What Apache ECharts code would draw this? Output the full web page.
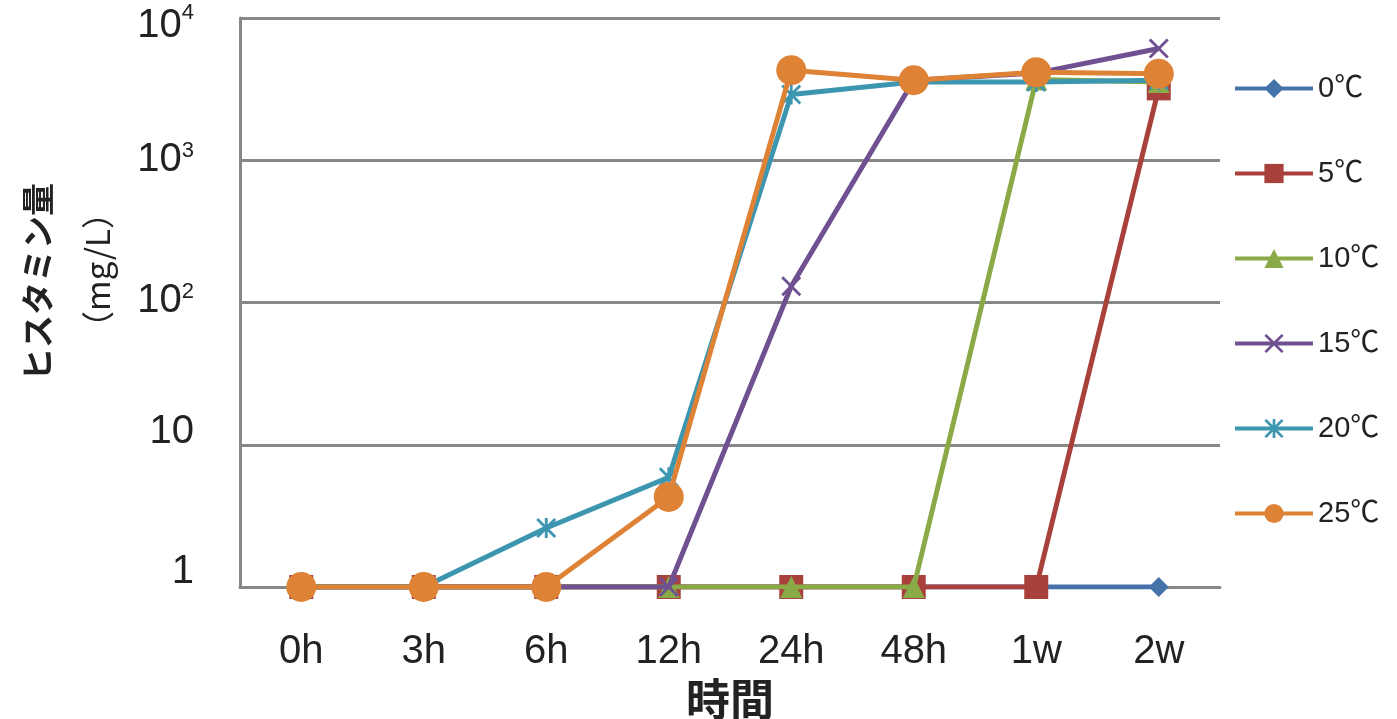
<!DOCTYPE html>
<html>
<head>
<meta charset="utf-8">
<script src="https://cdn.jsdelivr.net/npm/echarts@6/dist/echarts.min.js"></script>
<style>
  html, body { margin: 0; padding: 0; background: #fff; }
  #grafico { width: 1397px; height: 719px; }
</style>
</head>
<body>
<div id="grafico"></div>
<script>
// dados
var categorias = ["0h", "3h", "6h", "12h", "24h", "48h", "1w", "2w"];
var nomes = ["0℃", "5℃", "10℃", "15℃", "20℃", "25℃"];
var s0 = [1, 1, 1, 1, 1, 1, 1, 1];
var s5 = [1, 1, 1, 1, 1, 1, 1, 3200];
var s10 = [1, 1, 1, 1, 1, 1, 3700, 3550];
var s15 = [1, 1, 1, 1, 130, 3650, 4100, 6100];
var s20 = [1, 1, 2.6, 5.9, 2900, 3550, 3550, 3650];
var s25 = [1, 1, 1, 4.3, 4300, 3650, 4150, 4050];
var rotulosY = {
    1: "{a|1}",
    10: "{b|10}",
    100: "{c|10}{s|2}",
    1000: "{d|10}{s|3}",
    10000: "{e|10}{se|4}"
};

var cores = ["#4672aa", "#a8403c", "#8aaa48", "#6f5090", "#3d96b0", "#de8236"];

// marcadores
var simboloX = "path://M0,1L1,0L5,4L9,0L10,1L6,5L10,9L9,10L5,6L1,10L0,9L4,5Z";
var simboloAst = "path://M0,1L1,0L5,4L9,0L10,1L6,5L10,9L9,10L5,6L1,10L0,9L4,5Z M4.3,0L5.7,0L5.7,10L4.3,10Z";
var simbolos = ["diamond", "rect", "triangle", simboloX, simboloAst, "circle"];
var tamanhos = [20, 24, 22, 20, 20, 30];
var dados = [s0, s5, s10, s15, s20, s25];

var fonte = "'Liberation Sans', Arial, 'Noto Sans CJK JP', sans-serif";
var cinza = "#878787";
var texto = "#222";

function rotulo(pad) {
    return { fontSize: 40, color: texto, fontFamily: fonte, padding: pad };
}

var series = dados.map((d, i) => ({
    name: nomes[i],
    type: "line",
    data: d,
    symbol: simbolos[i],
    symbolSize: tamanhos[i],
    symbolKeepAspect: true,
    lineStyle: { width: 5, color: cores[i] },
    itemStyle: { color: cores[i] },
    emphasis: { disabled: true },
    z: 2 + i
}));

var myChart = echarts.init(document.getElementById("grafico"));

var option = {
    animation: false,
    backgroundColor: "#fff",
    grid: { left: 240, right: 177, top: 18, bottom: 132, outerBoundsMode: "none", containLabel: false },
    legend: {
        orient: "vertical",
        left: 1228,
        top: 69,
        itemWidth: 78,
        itemHeight: 24,
        itemGap: 56,
        data: nomes,
        lineStyle: { width: 4 },
        textStyle: { fontSize: 29, color: texto, fontFamily: fonte, lineHeight: 26 }
    },
    xAxis: {
        type: "category",
        data: categorias,
        boundaryGap: true,
        axisLine: { lineStyle: { color: cinza, width: 3 } },
        axisTick: { show: false },
        axisLabel: { fontSize: 40, color: texto, fontFamily: fonte, margin: 45 },
        name: "時間",
        nameLocation: "middle",
        nameGap: 90,
        nameTextStyle: { fontSize: 44, fontWeight: "bold", color: texto, fontFamily: "'Noto Sans CJK JP', sans-serif" }
    },
    yAxis: {
        type: "log",
        logBase: 10,
        min: 1,
        max: 10000,
        axisLine: { show: true, lineStyle: { color: cinza, width: 3 } },
        axisTick: { show: false },
        splitLine: { lineStyle: { color: cinza, width: 3 } },
        axisLabel: {
            margin: 46,
            color: texto,
            formatter: v => rotulosY[Math.round(v)] || "",
            rich: {
                a: rotulo([0, 0, 30, 0]),
                b: rotulo([0, 0, 26, 0]),
                c: rotulo([0, 0, 4, 0]),
                d: rotulo([0, 0, 0, 0]),
                e: rotulo([16, 0, 0, 0]),
                s: { fontSize: 22, color: texto, fontFamily: fonte, verticalAlign: "top" },
                se: { fontSize: 22, color: texto, fontFamily: fonte, verticalAlign: "top", padding: [12, 0, 0, 0] }
            }
        }
    },
    graphic: [
        {
            type: "text",
            x: 37,
            y: 282,
            rotation: Math.PI / 2,
            style: {
                text: "ヒスタミン量",
                font: "bold 33px 'Noto Sans CJK JP', sans-serif",
                fill: texto,
                align: "center",
                verticalAlign: "middle"
            }
        },
        {
            type: "text",
            x: 97,
            y: 270,
            rotation: Math.PI / 2,
            style: {
                text: "（mg/L）",
                font: "33px 'Noto Sans CJK JP', sans-serif",
                fill: texto,
                align: "center",
                verticalAlign: "middle"
            }
        }
    ],
    series: series
};

myChart.setOption(option);
</script>
</body>
</html>
